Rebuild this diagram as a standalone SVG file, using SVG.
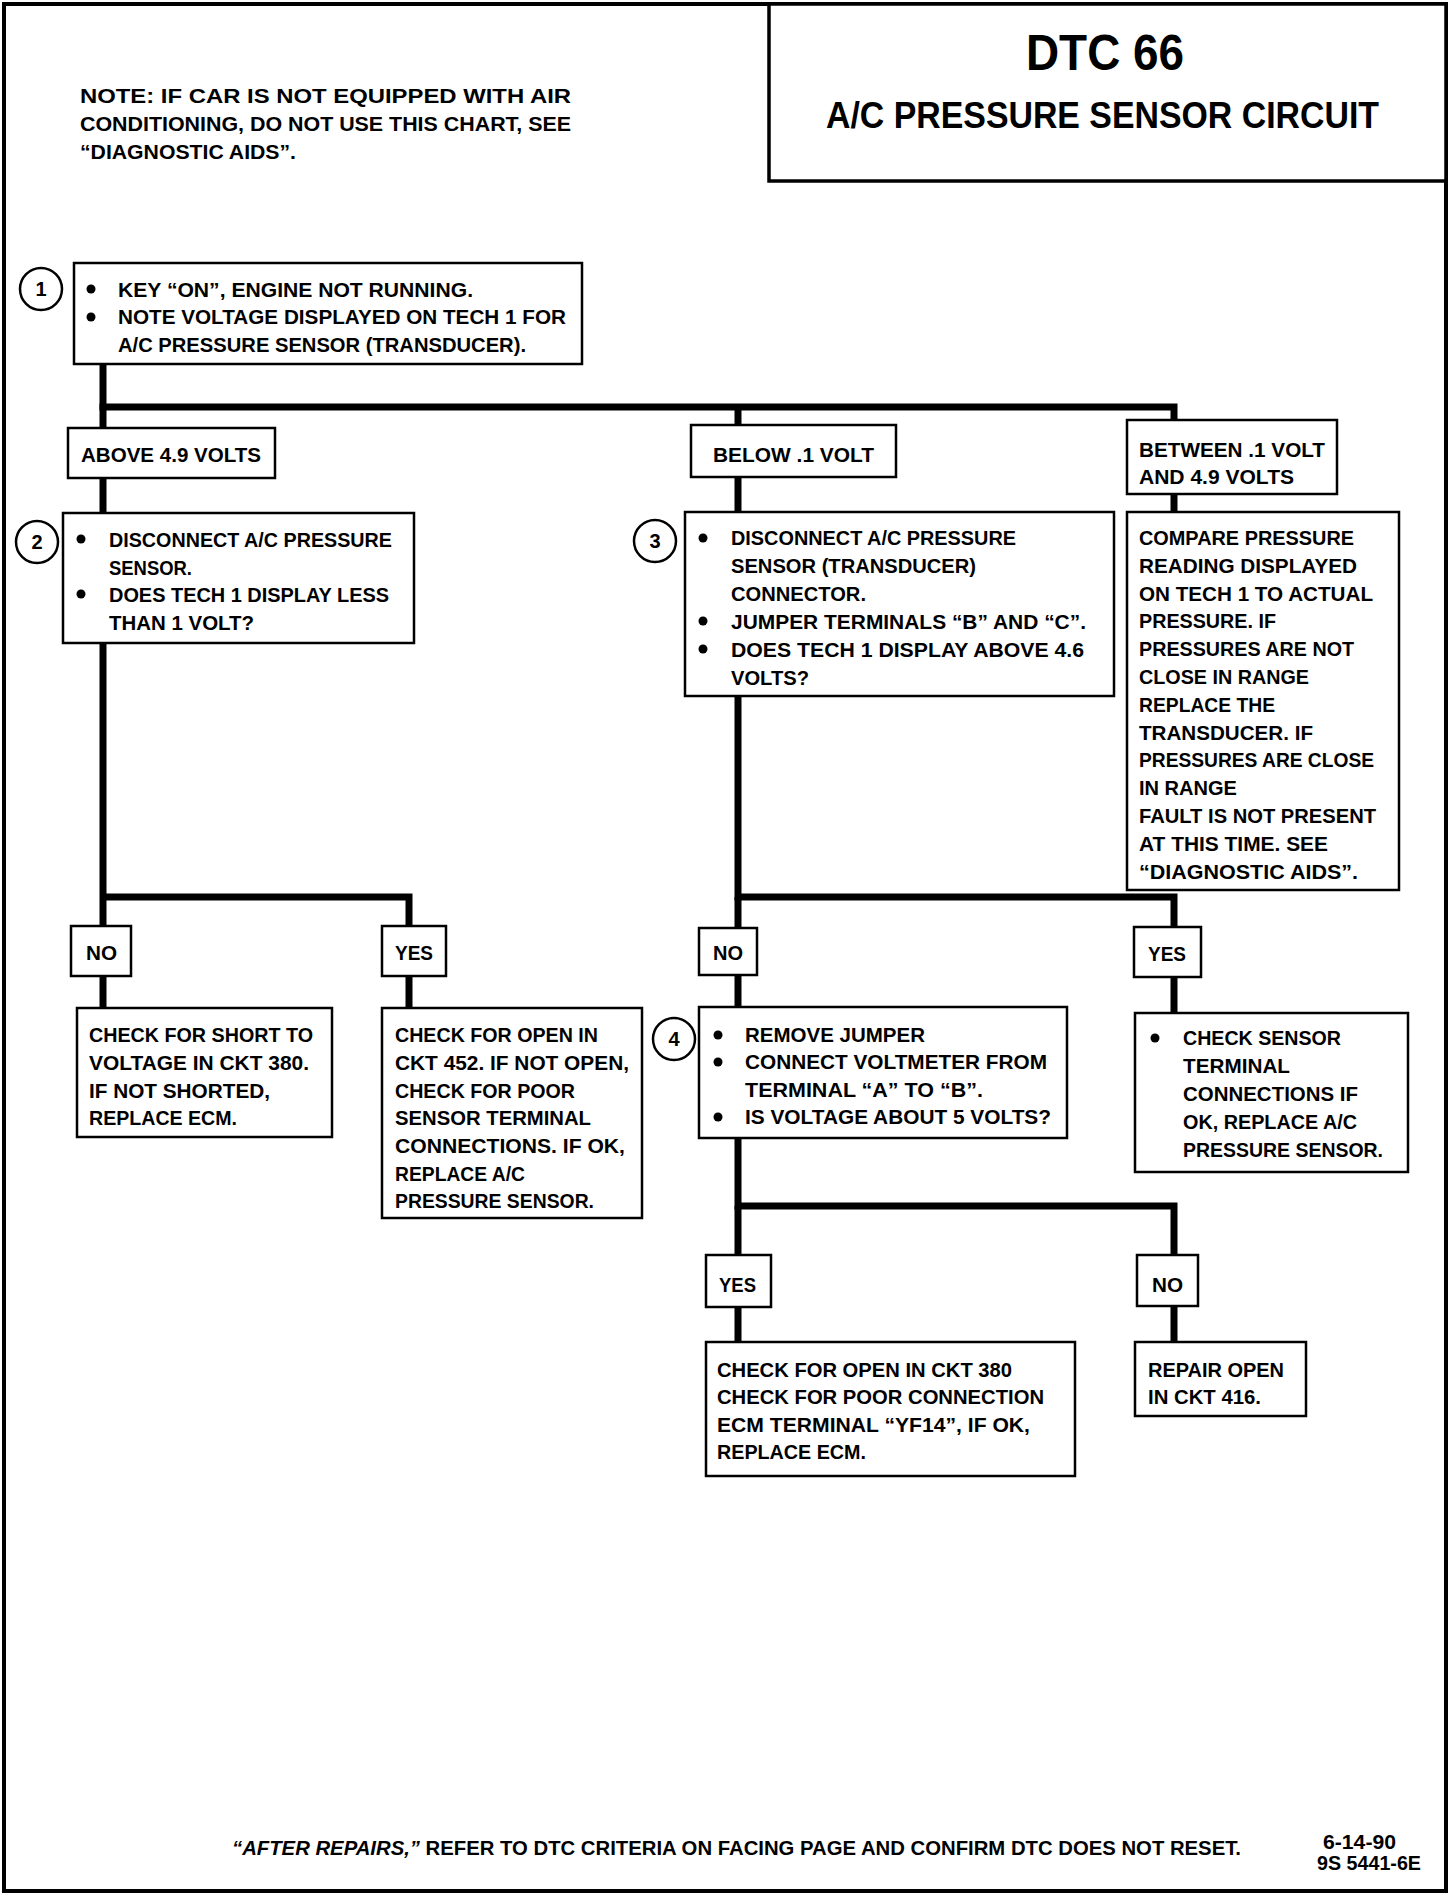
<svg xmlns="http://www.w3.org/2000/svg" width="1456" height="1896" viewBox="0 0 1456 1896">
<style>
.frame{fill:none;stroke:#000;stroke-width:4}
.box{fill:#fff;stroke:#000;stroke-width:2.5}
.wire{fill:none;stroke:#000;stroke-width:7;stroke-linejoin:miter}
.num{fill:#fff;stroke:#000;stroke-width:2.5}
.bul{fill:#000}
.t{font-family:"Liberation Sans Narrow","Liberation Sans",Arial,sans-serif;font-weight:bold;font-size:20px;fill:#000}
.n{font-family:"Liberation Sans Narrow","Liberation Sans",Arial,sans-serif;font-weight:bold;font-size:20px;fill:#000;text-anchor:middle}
.title{font-family:"Liberation Sans Narrow","Liberation Sans",Arial,sans-serif;font-weight:bold;fill:#000}
</style>
<rect x="0" y="0" width="1456" height="1896" fill="#fff"/>
<rect class="frame" x="4" y="4" width="1442" height="1887"/>

<g id="title">
<rect x="769" y="4" width="677" height="177" fill="#fff" stroke="#000" stroke-width="3.5"/>
<text class="title" x="1026" y="70" font-size="50" textLength="158" lengthAdjust="spacingAndGlyphs">DTC 66</text>
<text class="title" x="826" y="128" font-size="36" textLength="553" lengthAdjust="spacingAndGlyphs">A/C PRESSURE SENSOR CIRCUIT</text>
</g>

<g id="note">
<text class="t" x="80" y="103" font-size="19" textLength="491" lengthAdjust="spacingAndGlyphs">NOTE:  IF CAR IS NOT EQUIPPED WITH AIR</text>
<text class="t" x="80" y="131" font-size="19" textLength="491" lengthAdjust="spacingAndGlyphs">CONDITIONING, DO NOT USE THIS CHART, SEE</text>
<text class="t" x="80" y="159" font-size="19" textLength="216" lengthAdjust="spacingAndGlyphs">“DIAGNOSTIC AIDS”.</text>
</g>

<g id="connectors">
<path class="wire" d="M103 364 V897"/>
<path class="wire" d="M99.5 407 H1174 V421"/>
<path class="wire" d="M738 407 V511"/>
<path class="wire" d="M1174 493 V512"/>
<path class="wire" d="M738 696 V897 H1174 V927"/>
<path class="wire" d="M103 897 H409 V1008"/>
<path class="wire" d="M103 897 V1008"/>
<path class="wire" d="M738 897 V1007"/>
<path class="wire" d="M1174 927 V1013"/>
<path class="wire" d="M738 1138 V1206 H1174 V1342"/>
<path class="wire" d="M738 1206 V1342"/>
</g>

<g id="step1">
<rect class="box" x="74" y="263" width="508" height="101"/>
<circle class="num" cx="41" cy="289" r="21"/>
<text class="n" x="41" y="296">1</text>
<circle class="bul" cx="91" cy="289" r="4.5"/>
<circle class="bul" cx="91" cy="317" r="4.5"/>
<text class="t" x="118" y="297" textLength="355" lengthAdjust="spacingAndGlyphs">KEY “ON”, ENGINE NOT RUNNING.</text>
<text class="t" x="118" y="324" textLength="448" lengthAdjust="spacingAndGlyphs">NOTE VOLTAGE DISPLAYED ON TECH 1 FOR</text>
<text class="t" x="118" y="352" textLength="408" lengthAdjust="spacingAndGlyphs">A/C PRESSURE SENSOR  (TRANSDUCER).</text>
</g>

<g id="above">
<rect class="box" x="68" y="428" width="207" height="50"/>
<text class="t" x="81" y="462" textLength="180" lengthAdjust="spacingAndGlyphs">ABOVE 4.9 VOLTS</text>
</g>

<g id="below">
<rect class="box" x="691" y="425" width="205" height="52"/>
<text class="t" x="713" y="462" textLength="161" lengthAdjust="spacingAndGlyphs">BELOW .1 VOLT</text>
</g>

<g id="between">
<rect class="box" x="1127" y="420" width="210" height="74"/>
<text class="t" x="1139" y="457" textLength="186" lengthAdjust="spacingAndGlyphs">BETWEEN .1 VOLT</text>
<text class="t" x="1139" y="484" textLength="155" lengthAdjust="spacingAndGlyphs">AND 4.9 VOLTS</text>
</g>

<g id="step2">
<rect class="box" x="63" y="513" width="351" height="130"/>
<circle class="num" cx="37" cy="542" r="21"/>
<text class="n" x="37" y="549">2</text>
<circle class="bul" cx="81" cy="539" r="4.5"/>
<circle class="bul" cx="81" cy="594" r="4.5"/>
<text class="t" x="109" y="547" textLength="283" lengthAdjust="spacingAndGlyphs">DISCONNECT A/C PRESSURE</text>
<text class="t" x="109" y="575" textLength="83" lengthAdjust="spacingAndGlyphs">SENSOR.</text>
<text class="t" x="109" y="602" textLength="280" lengthAdjust="spacingAndGlyphs">DOES TECH 1 DISPLAY LESS</text>
<text class="t" x="109" y="630" textLength="145" lengthAdjust="spacingAndGlyphs">THAN 1 VOLT?</text>
</g>

<g id="step3">
<rect class="box" x="685" y="512" width="429" height="184"/>
<circle class="num" cx="655" cy="541" r="21"/>
<text class="n" x="655" y="548">3</text>
<circle class="bul" cx="703" cy="538" r="4.5"/>
<circle class="bul" cx="703" cy="621" r="4.5"/>
<circle class="bul" cx="703" cy="649" r="4.5"/>
<text class="t" x="731" y="545" textLength="285" lengthAdjust="spacingAndGlyphs">DISCONNECT A/C PRESSURE</text>
<text class="t" x="731" y="573" textLength="245" lengthAdjust="spacingAndGlyphs">SENSOR (TRANSDUCER)</text>
<text class="t" x="731" y="601" textLength="135" lengthAdjust="spacingAndGlyphs">CONNECTOR.</text>
<text class="t" x="731" y="629" textLength="355" lengthAdjust="spacingAndGlyphs">JUMPER TERMINALS “B” AND “C”.</text>
<text class="t" x="731" y="657" textLength="353" lengthAdjust="spacingAndGlyphs">DOES TECH 1 DISPLAY ABOVE   4.6</text>
<text class="t" x="731" y="685" textLength="78" lengthAdjust="spacingAndGlyphs">VOLTS?</text>
</g>

<g id="compare">
<rect class="box" x="1127" y="512" width="272" height="378"/>
<text class="t" x="1139" y="545" textLength="215" lengthAdjust="spacingAndGlyphs">COMPARE PRESSURE</text>
<text class="t" x="1139" y="573" textLength="218" lengthAdjust="spacingAndGlyphs">READING DISPLAYED</text>
<text class="t" x="1139" y="601" textLength="234" lengthAdjust="spacingAndGlyphs">ON TECH 1 TO ACTUAL</text>
<text class="t" x="1139" y="628" textLength="137" lengthAdjust="spacingAndGlyphs">PRESSURE.  IF</text>
<text class="t" x="1139" y="656" textLength="215" lengthAdjust="spacingAndGlyphs">PRESSURES ARE NOT</text>
<text class="t" x="1139" y="684" textLength="170" lengthAdjust="spacingAndGlyphs">CLOSE IN RANGE</text>
<text class="t" x="1139" y="712" textLength="136" lengthAdjust="spacingAndGlyphs">REPLACE THE</text>
<text class="t" x="1139" y="740" textLength="174" lengthAdjust="spacingAndGlyphs">TRANSDUCER.  IF</text>
<text class="t" x="1139" y="767" textLength="235" lengthAdjust="spacingAndGlyphs">PRESSURES ARE CLOSE</text>
<text class="t" x="1139" y="795" textLength="98" lengthAdjust="spacingAndGlyphs">IN RANGE</text>
<text class="t" x="1139" y="823" textLength="237" lengthAdjust="spacingAndGlyphs">FAULT IS NOT PRESENT</text>
<text class="t" x="1139" y="851" textLength="189" lengthAdjust="spacingAndGlyphs">AT THIS TIME.  SEE</text>
<text class="t" x="1139" y="879" textLength="219" lengthAdjust="spacingAndGlyphs">“DIAGNOSTIC AIDS”.</text>
</g>

<g id="no2">
<rect class="box" x="71" y="926" width="60" height="50"/>
<text class="t" x="86" y="960" textLength="31" lengthAdjust="spacingAndGlyphs">NO</text>
</g>
<g id="yes2">
<rect class="box" x="382" y="926" width="64" height="50"/>
<text class="t" x="395" y="960" textLength="38" lengthAdjust="spacingAndGlyphs">YES</text>
</g>
<g id="no3">
<rect class="box" x="699" y="928" width="58" height="47"/>
<text class="t" x="713" y="960" textLength="30" lengthAdjust="spacingAndGlyphs">NO</text>
</g>
<g id="yes3">
<rect class="box" x="1134" y="927" width="67" height="50"/>
<text class="t" x="1148" y="961" textLength="38" lengthAdjust="spacingAndGlyphs">YES</text>
</g>

<g id="short">
<rect class="box" x="77" y="1008" width="255" height="129"/>
<text class="t" x="89" y="1042" textLength="224" lengthAdjust="spacingAndGlyphs">CHECK FOR SHORT TO</text>
<text class="t" x="89" y="1070" textLength="220" lengthAdjust="spacingAndGlyphs">VOLTAGE IN CKT 380.</text>
<text class="t" x="89" y="1098" textLength="181" lengthAdjust="spacingAndGlyphs">IF NOT SHORTED,</text>
<text class="t" x="89" y="1125" textLength="148" lengthAdjust="spacingAndGlyphs">REPLACE ECM.</text>
</g>

<g id="open452">
<rect class="box" x="382" y="1008" width="260" height="210"/>
<text class="t" x="395" y="1042" textLength="203" lengthAdjust="spacingAndGlyphs">CHECK FOR OPEN IN</text>
<text class="t" x="395" y="1070" textLength="234" lengthAdjust="spacingAndGlyphs">CKT 452.  IF NOT OPEN,</text>
<text class="t" x="395" y="1098" textLength="180" lengthAdjust="spacingAndGlyphs">CHECK FOR POOR</text>
<text class="t" x="395" y="1125" textLength="196" lengthAdjust="spacingAndGlyphs">SENSOR TERMINAL</text>
<text class="t" x="395" y="1153" textLength="230" lengthAdjust="spacingAndGlyphs">CONNECTIONS.  IF OK,</text>
<text class="t" x="395" y="1181" textLength="130" lengthAdjust="spacingAndGlyphs">REPLACE A/C</text>
<text class="t" x="395" y="1208" textLength="199" lengthAdjust="spacingAndGlyphs">PRESSURE SENSOR.</text>
</g>

<g id="step4">
<rect class="box" x="699" y="1007" width="368" height="131"/>
<circle class="num" cx="674" cy="1039" r="21"/>
<text class="n" x="674" y="1046">4</text>
<circle class="bul" cx="718" cy="1035" r="4.5"/>
<circle class="bul" cx="718" cy="1062" r="4.5"/>
<circle class="bul" cx="718" cy="1117" r="4.5"/>
<text class="t" x="745" y="1042" textLength="180" lengthAdjust="spacingAndGlyphs">REMOVE JUMPER</text>
<text class="t" x="745" y="1069" textLength="302" lengthAdjust="spacingAndGlyphs">CONNECT VOLTMETER FROM</text>
<text class="t" x="745" y="1097" textLength="238" lengthAdjust="spacingAndGlyphs">TERMINAL “A” TO “B”.</text>
<text class="t" x="745" y="1124" textLength="306" lengthAdjust="spacingAndGlyphs">IS VOLTAGE ABOUT 5 VOLTS?</text>
</g>

<g id="sensor">
<rect class="box" x="1135" y="1013" width="273" height="159"/>
<circle class="bul" cx="1155" cy="1038" r="4.5"/>
<text class="t" x="1183" y="1045" textLength="158" lengthAdjust="spacingAndGlyphs">CHECK SENSOR</text>
<text class="t" x="1183" y="1073" textLength="107" lengthAdjust="spacingAndGlyphs">TERMINAL</text>
<text class="t" x="1183" y="1101" textLength="175" lengthAdjust="spacingAndGlyphs">CONNECTIONS IF</text>
<text class="t" x="1183" y="1129" textLength="174" lengthAdjust="spacingAndGlyphs">OK, REPLACE A/C</text>
<text class="t" x="1183" y="1157" textLength="200" lengthAdjust="spacingAndGlyphs">PRESSURE SENSOR.</text>
</g>

<g id="yes4">
<rect class="box" x="706" y="1255" width="65" height="52"/>
<text class="t" x="719" y="1292" textLength="37" lengthAdjust="spacingAndGlyphs">YES</text>
</g>
<g id="no4">
<rect class="box" x="1137" y="1255" width="61" height="51"/>
<text class="t" x="1152" y="1292" textLength="31" lengthAdjust="spacingAndGlyphs">NO</text>
</g>

<g id="open380">
<rect class="box" x="706" y="1342" width="369" height="134"/>
<text class="t" x="717" y="1377" textLength="295" lengthAdjust="spacingAndGlyphs">CHECK FOR OPEN IN CKT 380</text>
<text class="t" x="717" y="1404" textLength="327" lengthAdjust="spacingAndGlyphs">CHECK FOR POOR CONNECTION</text>
<text class="t" x="717" y="1432" textLength="313" lengthAdjust="spacingAndGlyphs">ECM TERMINAL “YF14”, IF OK,</text>
<text class="t" x="717" y="1459" textLength="149" lengthAdjust="spacingAndGlyphs">REPLACE ECM.</text>
</g>

<g id="repair416">
<rect class="box" x="1135" y="1342" width="171" height="74"/>
<text class="t" x="1148" y="1377" textLength="136" lengthAdjust="spacingAndGlyphs">REPAIR OPEN</text>
<text class="t" x="1148" y="1404" textLength="113" lengthAdjust="spacingAndGlyphs">IN CKT 416.</text>
</g>

<g id="footer">
<text class="t" x="232" y="1855" font-size="19" textLength="1009" lengthAdjust="spacingAndGlyphs"><tspan font-style="italic">“AFTER REPAIRS,”</tspan> REFER TO DTC CRITERIA ON FACING PAGE AND CONFIRM DTC DOES NOT RESET.</text>
<text class="t" x="1323" y="1849" font-size="19" textLength="73" lengthAdjust="spacingAndGlyphs">6-14-90</text>
<text class="t" x="1317" y="1870" font-size="19" textLength="104" lengthAdjust="spacingAndGlyphs">9S 5441-6E</text>
</g>
</svg>
